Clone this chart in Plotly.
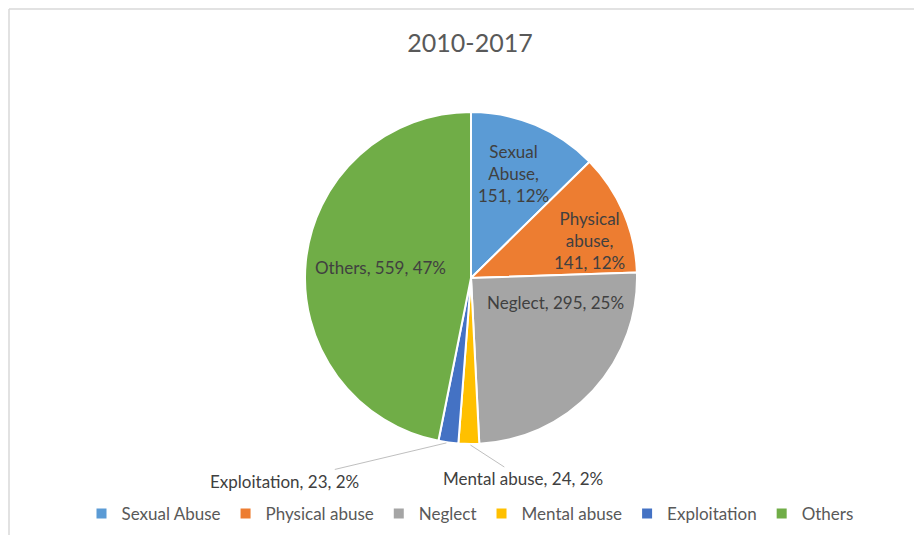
import numpy as np
import plotly.graph_objects as go

# données
categories = ["Sexual Abuse", "Physical abuse", "Neglect", "Mental abuse", "Exploitation", "Others"]
counts = [151, 141, 295, 24, 23, 559]
percents = ["12%", "12%", "25%", "2%", "2%", "47%"]
colors = ["#5B9BD5", "#ED7D31", "#A5A5A5", "#FFC000", "#4472C4", "#70AD47"]

# la page ajoute une marge de 8 px autour de la figure
OFF = 8
W, H = 906, 527
CX, CY, R = 471, 278, 166  # centre et rayon du camembert (px, écran)

# texte des étiquettes, avec retours à la ligne comme dans Excel
label_lines = [
    "Sexual<br>Abuse,<br>{c}, {p}",
    "Physical<br>abuse,<br>{c}, {p}",
    "{n}, {c}, {p}",
    "{n}, {c}, {p}",
    "{n}, {c}, {p}",
    "{n}, {c}, {p}",
]
# placement : (fraction d'angle dans la part, fraction de rayon)
inside_pos = {0: (0.48, 0.68), 1: (0.63, 0.75), 2: (0.2, 0.53), 5: (0.507, 0.55)}
# étiquettes extérieures avec ligne de rappel : décalage texte (px)
outside_off = {3: (54, 35), 4: (-164, 39)}

font_family = "Lato, 'Open Sans', sans-serif"
label_font = dict(size=17, color="#404040", family=font_family)


def px_to_paper(x, y):
    return (x - OFF) / W, 1 - (y - OFF) / H


fig = go.Figure()
x0, y1 = px_to_paper(CX - R, CY - R)
x1, y0 = px_to_paper(CX + R, CY + R)
fig.add_trace(go.Pie(
    labels=categories,
    values=counts,
    sort=False,
    direction="clockwise",
    rotation=0,
    marker=dict(colors=colors, line=dict(color="white", width=2)),
    textinfo="none",
    hoverinfo="label+value+percent",
    domain=dict(x=[x0, x1], y=[y0, y1]),
))

total = sum(counts)
bounds = np.concatenate([[0], np.cumsum(counts)]) / total * 360
annotations = []
for i, name in enumerate(categories):
    txt = label_lines[i].format(n=name, c=counts[i], p=percents[i])
    a0, a1 = bounds[i], bounds[i + 1]
    if i in inside_pos:
        fa, fr = inside_pos[i]
        ang = np.radians(a0 + fa * (a1 - a0))
        x, y = px_to_paper(CX + fr * R * np.sin(ang), CY - fr * R * np.cos(ang))
        annotations.append(dict(x=x, y=y, xref="paper", yref="paper", text=txt,
                                xanchor="center", yanchor="middle",
                                showarrow=False, font=label_font))
    else:
        ang = np.radians((a0 + a1) / 2)
        x, y = px_to_paper(CX + R * np.sin(ang), CY - R * np.cos(ang))
        ax, ay = outside_off[i]
        annotations.append(dict(x=x, y=y, xref="paper", yref="paper", text=txt,
                                showarrow=True, arrowhead=0, arrowwidth=1, arrowcolor="#BFBFBF",
                                ax=ax, ay=ay, standoff=2, font=label_font))

tx, ty = px_to_paper(470, 43)
lx, ly = px_to_paper(470, 514)
fig.update_layout(
    width=W,
    height=H,
    margin=dict(l=0, r=0, t=0, b=0),
    paper_bgcolor="white",
    title=dict(text="2010-2017", x=tx, xanchor="center", y=ty, yanchor="middle",
               font=dict(size=25, color="#595959", family=font_family)),
    font=dict(family=font_family, color="#595959"),
    showlegend=True,
    legend=dict(orientation="h", x=lx, xanchor="center", y=ly, yanchor="middle",
                font=dict(size=17, color="#595959"), itemwidth=30, traceorder="normal"),
    annotations=annotations,
    shapes=[
        dict(type="line", xref="paper", yref="paper", x0=1 / W, x1=1, y0=1 - 1 / H, y1=1 - 1 / H,
             line=dict(color="#D9D9D9", width=1.5)),
        dict(type="line", xref="paper", yref="paper", x0=1 / W, x1=1 / W, y0=0, y1=1 - 1 / H,
             line=dict(color="#D9D9D9", width=1.5)),
    ],
)

fig.write_html("out.html")
